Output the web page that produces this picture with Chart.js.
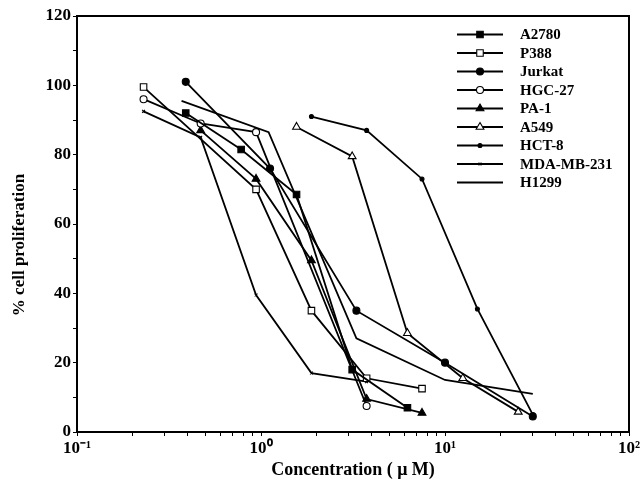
<!DOCTYPE html>
<html>
<head>
<meta charset="utf-8">
<script src="https://cdn.jsdelivr.net/npm/chart.js@4.4.0/dist/chart.umd.min.js"></script>
<style>
  html, body { margin: 0; padding: 0; background: #fff; }
  #wrap { width: 644px; height: 488px; }
</style>
</head>
<body>
<div id="wrap"><canvas id="chart" width="644" height="488"></canvas></div>
<script>
// ---- data (x = concentration in uM, y = % proliferation) ----
const seriesNames = ["A2780", "P388", "Jurkat", "HGC-27", "PA-1", "A549", "HCT-8", "MDA-MB-231", "H1299"];

const a2780X = [0.39, 0.78, 1.56, 3.13, 6.25];
const a2780Y = [92, 81.5, 68.5, 18, 7];

const p388X = [0.23, 0.94, 1.88, 3.75, 7.5];
const p388Y = [99.5, 70, 35, 15.5, 12.5];

const jurkatX = [0.39, 1.12, 3.3, 10, 30];
const jurkatY = [101, 76, 35, 20, 4.5];

const hgcX = [0.23, 0.47, 0.94, 3.75];
const hgcY = [96, 89, 86.5, 7.5];

const pa1X = [0.47, 0.94, 1.88, 3.75, 7.5];
const pa1Y = [87, 73, 49.5, 9.5, 5.5];

const a549X = [1.56, 3.13, 6.25, 12.5, 25];
const a549Y = [88, 79.5, 28.5, 15.5, 5.8];

const hct8X = [1.88, 3.75, 7.5, 15, 30];
const hct8Y = [91, 87, 73, 35.5, 5];

const mdaX = [0.23, 0.47, 0.94, 1.88, 3.75];
const mdaY = [92.5, 85, 39.5, 17, 14.5];

const h1299X = [0.37, 1.1, 3.3, 10, 30];
const h1299Y = [95.5, 86.5, 27, 15, 11];

const yTicks = [0, 20, 40, 60, 80, 100, 120];
const xDecades = [0.1, 1, 10, 100];
const xDecadeLabels = ["10\u207B\u00B9", "10\u2070", "10\u00B9", "10\u00B2"];

// ---- styles ----
const SERIF = "'Liberation Serif', 'Times New Roman', serif";
const markers = [
  { style: "rect", radius: 4.6, fill: "#000" },
  { style: "rect", radius: 4.6, fill: "#fff" },
  { style: "circle", radius: 3.5, fill: "#000" },
  { style: "circle", radius: 3.5, fill: "#fff" },
  { style: "triangle", radius: 4.5, fill: "#000" },
  { style: "triangle", radius: 4.5, fill: "#fff" },
  { style: "circle", radius: 2, fill: "#000" },
  { style: "crossRot", radius: 2, fill: "#000" },
  { style: false, radius: 0, fill: "#000" }
];

const xs = [a2780X, p388X, jurkatX, hgcX, pa1X, a549X, hct8X, mdaX, h1299X];
const ys = [a2780Y, p388Y, jurkatY, hgcY, pa1Y, a549Y, hct8Y, mdaY, h1299Y];

const datasets = seriesNames.map((name, i) => ({
  label: name,
  data: xs[i].map((x, j) => ({ x: x, y: ys[i][j] })),
  borderColor: "#000",
  borderWidth: 1.8,
  pointStyle: markers[i].style,
  pointRadius: markers[i].radius,
  pointBackgroundColor: markers[i].fill,
  pointBorderColor: "#000",
  pointBorderWidth: 1.1,
  tension: 0,
  fill: false
}));

// frame around the plot area + the rotated y title
const frame = {
  id: "frame",
  afterDraw(chart) {
    const { ctx, chartArea: a } = chart;
    ctx.save();
    ctx.strokeStyle = "#000";
    ctx.lineWidth = 2;
    ctx.strokeRect(a.left, a.top, a.right - a.left, a.bottom - a.top);

    ctx.translate(20, 245);
    ctx.rotate(-Math.PI / 2);
    ctx.fillStyle = "#000";
    ctx.font = "bold 17px " + SERIF;
    ctx.textAlign = "center";
    ctx.textBaseline = "middle";
    ctx.fillText("% cell proliferation", 0, 0);
    ctx.restore();
  }
};

// legend in the upper right corner, drawn from the dataset styles
const insideLegend = {
  id: "insideLegend",
  afterDraw(chart) {
    const ctx = chart.ctx;
    ctx.save();
    chart.data.datasets.forEach((ds, i) => {
      const y = 34.5 + i * 18.5;
      ctx.strokeStyle = "#000";
      ctx.lineWidth = 1.8;
      ctx.beginPath();
      ctx.moveTo(457, y);
      ctx.lineTo(503, y);
      ctx.stroke();
      if (ds.pointStyle) {
        ctx.fillStyle = ds.pointBackgroundColor;
        ctx.lineWidth = ds.pointBorderWidth;
        Chart.helpers.drawPoint(ctx, {
          pointStyle: ds.pointStyle, radius: ds.pointRadius, rotation: 0, borderWidth: ds.pointBorderWidth
        }, 480, y);
      }
      ctx.fillStyle = "#000";
      ctx.font = "bold 15px " + SERIF;
      ctx.textBaseline = "middle";
      ctx.textAlign = "left";
      ctx.fillText(ds.label, 520, y + 1);
    });
    ctx.restore();
  }
};

new Chart(document.getElementById("chart"), {
  type: "line",
  data: { datasets },
  plugins: [frame, insideLegend],
  options: {
    responsive: false,
    animation: false,
    layout: { padding: { top: 16, right: 15, left: 0, bottom: 0 } },
    plugins: { legend: { display: false }, tooltip: { enabled: false } },
    scales: {
      x: {
        type: "logarithmic",
        min: 0.1,
        max: 100,
        afterFit(scale) { scale.height = 56; },
        afterBuildTicks(scale) {
          const t = [];
          for (let d = 0; d < 3; d++) {
            for (let k = 1; k < 10; k++) t.push({ value: xDecades[d] * k });
          }
          t.push({ value: 100 });
          scale.ticks = t;
        },
        ticks: {
          autoSkip: false,
          maxRotation: 0,
          padding: 2,
          color: "#000",
          font: { family: SERIF, size: 17, weight: "bold" },
          callback(v) {
            const i = xDecades.findIndex(d => Math.abs(d - v) < 1e-9);
            return i >= 0 ? xDecadeLabels[i] : "";
          }
        },
        grid: { drawOnChartArea: false, drawTicks: true, tickLength: 4, color: "#000", lineWidth: 1 },
        border: { color: "#000", width: 2 },
        title: {
          display: true,
          text: "Concentration ( \u03BC M)",
          color: "#000",
          font: { family: SERIF, size: 18, weight: "bold" },
          padding: { top: 0, bottom: 7 }
        }
      },
      y: {
        min: 0,
        max: 120,
        afterFit(scale) { scale.width = 77; },
        ticks: {
          stepSize: 10,
          padding: 2,
          color: "#000",
          font: { family: SERIF, size: 17, weight: "bold" },
          callback(v) { return yTicks.includes(v) ? String(v) : ""; }
        },
        grid: { drawOnChartArea: false, drawTicks: true, tickLength: 4, color: "#000", lineWidth: 1 },
        border: { color: "#000", width: 2 }
      }
    }
  }
});
</script>
</body>
</html>
